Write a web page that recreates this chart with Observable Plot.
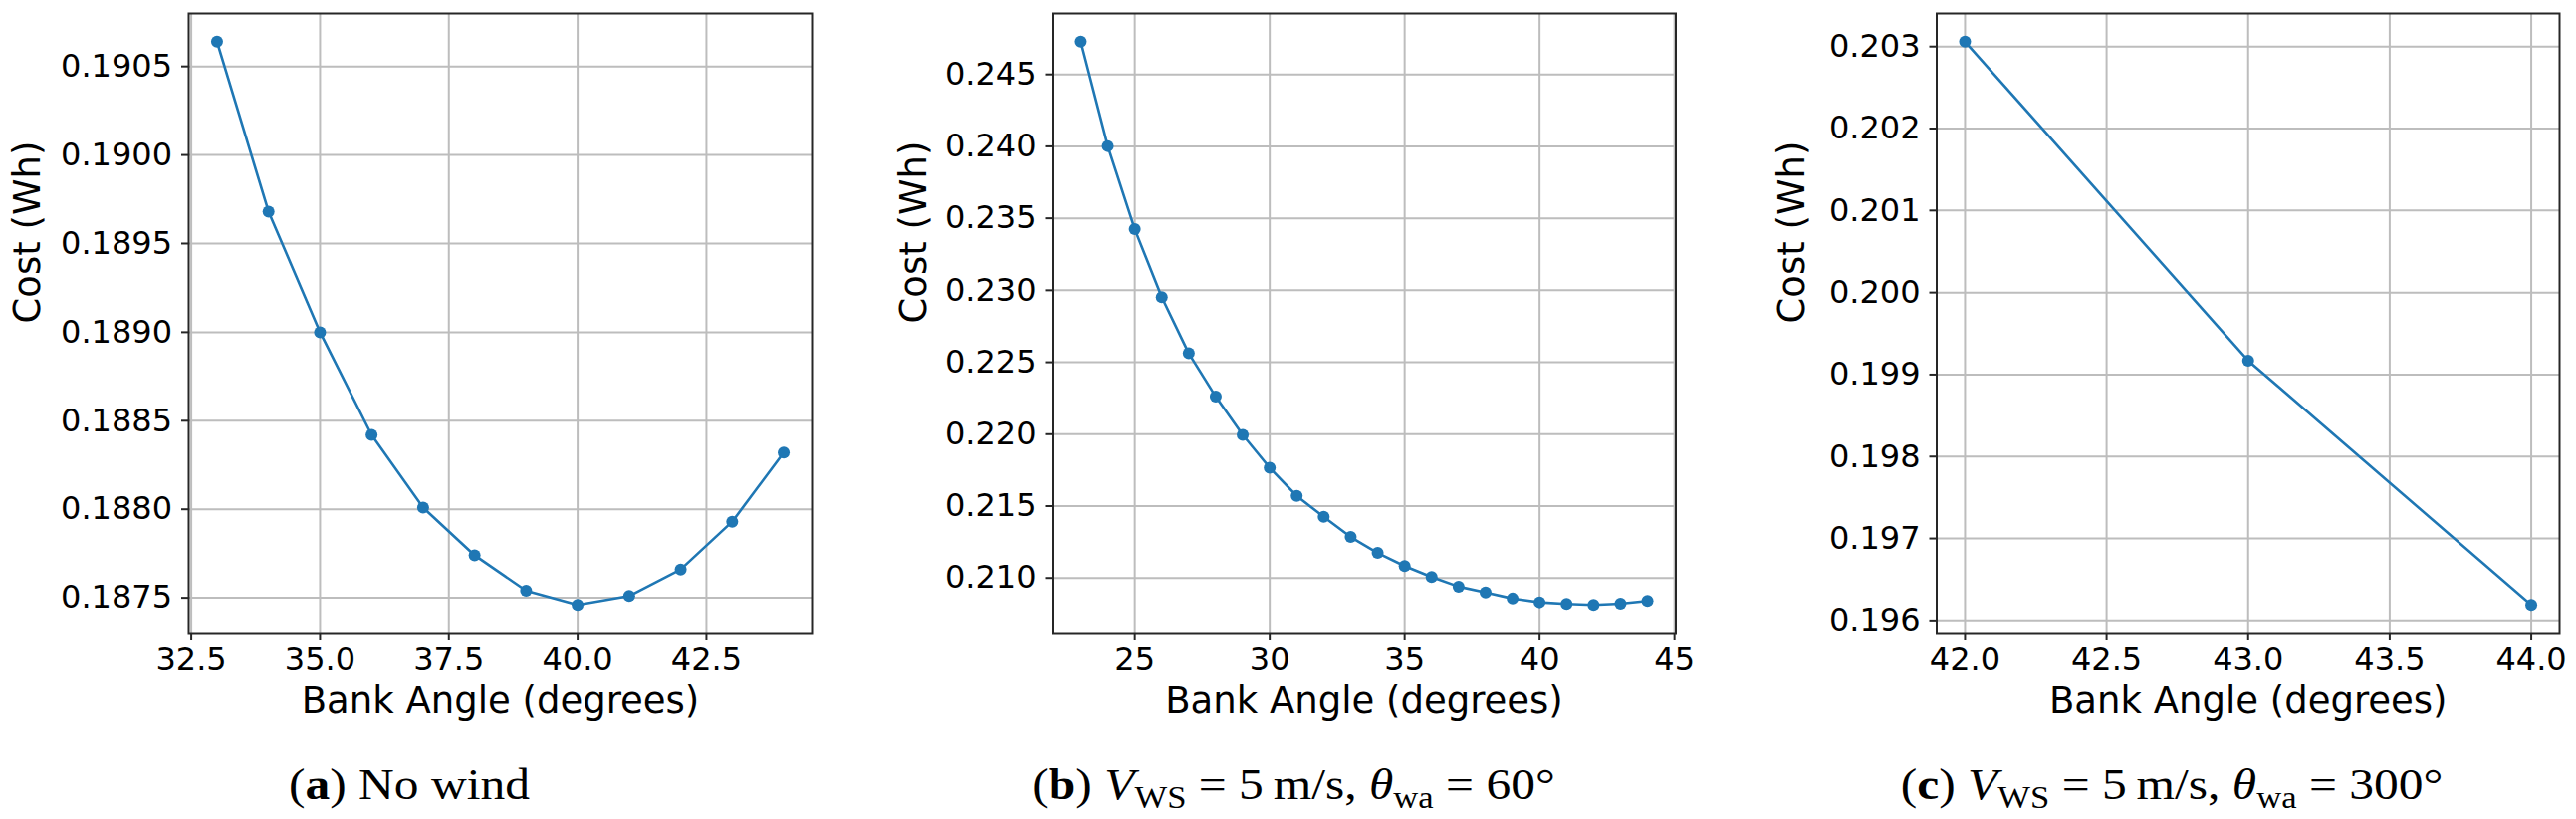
<!DOCTYPE html>
<html>
<head>
<meta charset="utf-8">
<script src="https://cdn.jsdelivr.net/npm/d3@7"></script>
<script src="https://cdn.jsdelivr.net/npm/@observablehq/plot@0.6"></script>
<style>
  html, body { margin: 0; padding: 0; background: #fff; }
  #root { position: relative; width: 2587px; height: 822px; overflow: hidden; background: #fff; }
  .panel { position: absolute; top: 0; }
  .cap { position: absolute; top: 765px; width: 1000px; text-align: center; white-space: nowrap;
         font-family: "Liberation Serif", serif; font-size: 45px; line-height: 45px; color: #000;
         transform: scaleX(1.1); }
  .cap sub { font-size: 0.7em; vertical-align: -0.3em; line-height: 0; }
</style>
</head>
<body>
<div id="root">
  <div class="panel" id="pa" style="left:0px"></div>
  <div class="panel" id="pb" style="left:860px"></div>
  <div class="panel" id="pc" style="left:1720px"></div>
  <div class="cap" style="left:-89px">(<b>a</b>) No wind</div>
  <div class="cap" style="left:799px">(<b>b</b>) <i>V</i><sub>WS</sub>&nbsp;=&nbsp;5&thinsp;m/s, <i>θ</i><sub>wa</sub>&nbsp;=&nbsp;60°</div>
  <div class="cap" style="left:1681px">(<b>c</b>) <i>V</i><sub>WS</sub>&nbsp;=&nbsp;5&thinsp;m/s, <i>θ</i><sub>wa</sub>&nbsp;=&nbsp;300°</div>
</div>
<script>
// ---- Data ----
const anglesA = [33, 34, 35, 36, 37, 38, 39, 40, 41, 42, 43, 44];
const costA = [0.19064, 0.18968, 0.18900, 0.18842, 0.18801, 0.18774, 0.18754, 0.18746, 0.18751, 0.18766, 0.18793, 0.18832];

const anglesB = [23, 24, 25, 26, 27, 28, 29, 30, 31, 32, 33, 34, 35, 36, 37, 38, 39, 40, 41, 42, 43, 44];
const costB = [0.24728, 0.24002, 0.23424, 0.22952, 0.22562, 0.22261, 0.21995, 0.21766, 0.21571, 0.21425,
               0.21285, 0.21174, 0.21083, 0.21007, 0.20940, 0.20900, 0.20857, 0.20831, 0.20820, 0.20813, 0.20822, 0.20841];

const anglesC = [42, 43, 44];
const costC = [0.20306, 0.19917, 0.19619];

const xTicksA = [32.5, 35.0, 37.5, 40.0, 42.5];
const yTicksA = [0.1875, 0.1880, 0.1885, 0.1890, 0.1895, 0.1900, 0.1905];
const xTicksB = [25, 30, 35, 40, 45];
const yTicksB = [0.210, 0.215, 0.220, 0.225, 0.230, 0.235, 0.240, 0.245];
const xTicksC = [42.0, 42.5, 43.0, 43.5, 44.0];
const yTicksC = [0.196, 0.197, 0.198, 0.199, 0.200, 0.201, 0.202, 0.203];

const xLabel = "Bank Angle (degrees)";
const yLabel = "Cost (Wh)";

// ---- Drawing ----
function padded(values) {
  const [a, b] = d3.extent(values);
  const m = (b - a) * 0.05;
  return [a - m, b + m];
}

function panel({xs, ys, xTicks, yTicks, xFmt, yFmt, width, ml, mr, ylabX}) {
  const data = xs.map((x, i) => ({x, y: ys[i]}));
  const H = 740, MT = 13, MB = 105;
  return Plot.plot({
    width, height: H,
    marginLeft: ml, marginRight: mr, marginTop: MT, marginBottom: MB,
    style: {fontFamily: "DejaVu Sans", fontSize: "32px", color: "#000", background: "#fff", overflow: "visible"},
    x: {domain: padded(xs)},
    y: {domain: padded(ys)},
    marks: [
      Plot.gridX(xTicks, {stroke: "#bdbdbd", strokeOpacity: 1, strokeWidth: 2}),
      Plot.gridY(yTicks, {stroke: "#bdbdbd", strokeOpacity: 1, strokeWidth: 2}),
      Plot.line(data, {x: "x", y: "y", stroke: "#1f77b4", strokeWidth: 2.6}),
      Plot.dot(data, {x: "x", y: "y", r: 6, fill: "#1f77b4", stroke: "none"}),
      Plot.frame({stroke: "#262626", strokeWidth: 2}),
      Plot.axisX(xTicks, {tickFormat: xFmt, tickSize: 7, tickPadding: 7, stroke: "#262626", strokeWidth: 2, fontSize: 32, label: null}),
      Plot.axisY(yTicks, {tickFormat: yFmt, tickSize: 7, tickPadding: 9.5, stroke: "#262626", strokeWidth: 2, fontSize: 32, label: null}),
      Plot.text([xLabel], {text: d => d, frameAnchor: "bottom", dy: 69, fontSize: 37, lineAnchor: "middle", fill: "#000"}),
      Plot.text([yLabel], {text: d => d, frameAnchor: "left", dx: ylabX - ml, rotate: -90, fontSize: 37, lineAnchor: "middle", fill: "#000"})
    ]
  });
}

document.getElementById("pa").append(panel({
  xs: anglesA, ys: costA, xTicks: xTicksA, yTicks: yTicksA,
  xFmt: d => d.toFixed(1), yFmt: d => d.toFixed(4),
  width: 860, ml: 189, mr: 45, ylabX: 28
}));
document.getElementById("pb").append(panel({
  xs: anglesB, ys: costB, xTicks: xTicksB, yTicks: yTicksB,
  xFmt: d => d.toFixed(0), yFmt: d => d.toFixed(3),
  width: 860, ml: 196.5, mr: 37.5, ylabX: 58
}));
document.getElementById("pc").append(panel({
  xs: anglesC, ys: costC, xTicks: xTicksC, yTicks: yTicksC,
  xFmt: d => d.toFixed(1), yFmt: d => d.toFixed(3),
  width: 867, ml: 224.5, mr: 17, ylabX: 80
}));
</script>
</body>
</html>
